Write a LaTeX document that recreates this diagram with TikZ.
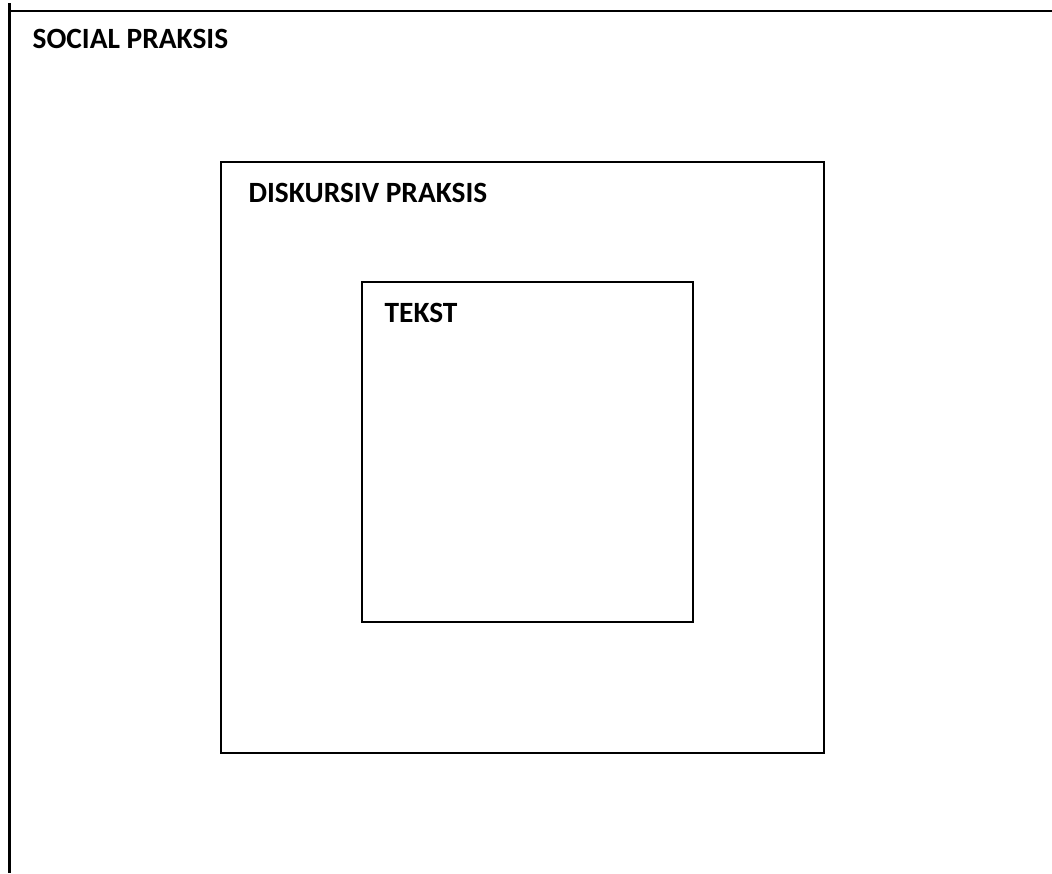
\documentclass[tikz,border=0pt]{standalone}
\usepackage{fontspec}
\setmainfont{Carlito}
\begin{document}
\begin{tikzpicture}[x=0.5pt, y=-0.5pt, line width=0.6pt,
    label/.style={anchor=base west, inner sep=0pt, font=\fontsize{14.7}{17}\selectfont\bfseries}]
    \useasboundingbox (0,0) rectangle (1052,873);

    % Social praksis (open frame)
    \draw (9,11) -- (1052,11);
    \draw[line width=1.3pt] (9.5,3) -- (9.5,873);
    \node[label] (social) at (32,48) {SOCIAL PRAKSIS};

    % Diskursiv praksis
    \draw (221,162) rectangle (824,753);
    \node[label] (diskursiv) at (248,202) {DISKURSIV PRAKSIS};

    % Tekst
    \draw (362,282) rectangle (693,622);
    \node[label] (tekst) at (384,322) {TEKST};
\end{tikzpicture}
\end{document}
